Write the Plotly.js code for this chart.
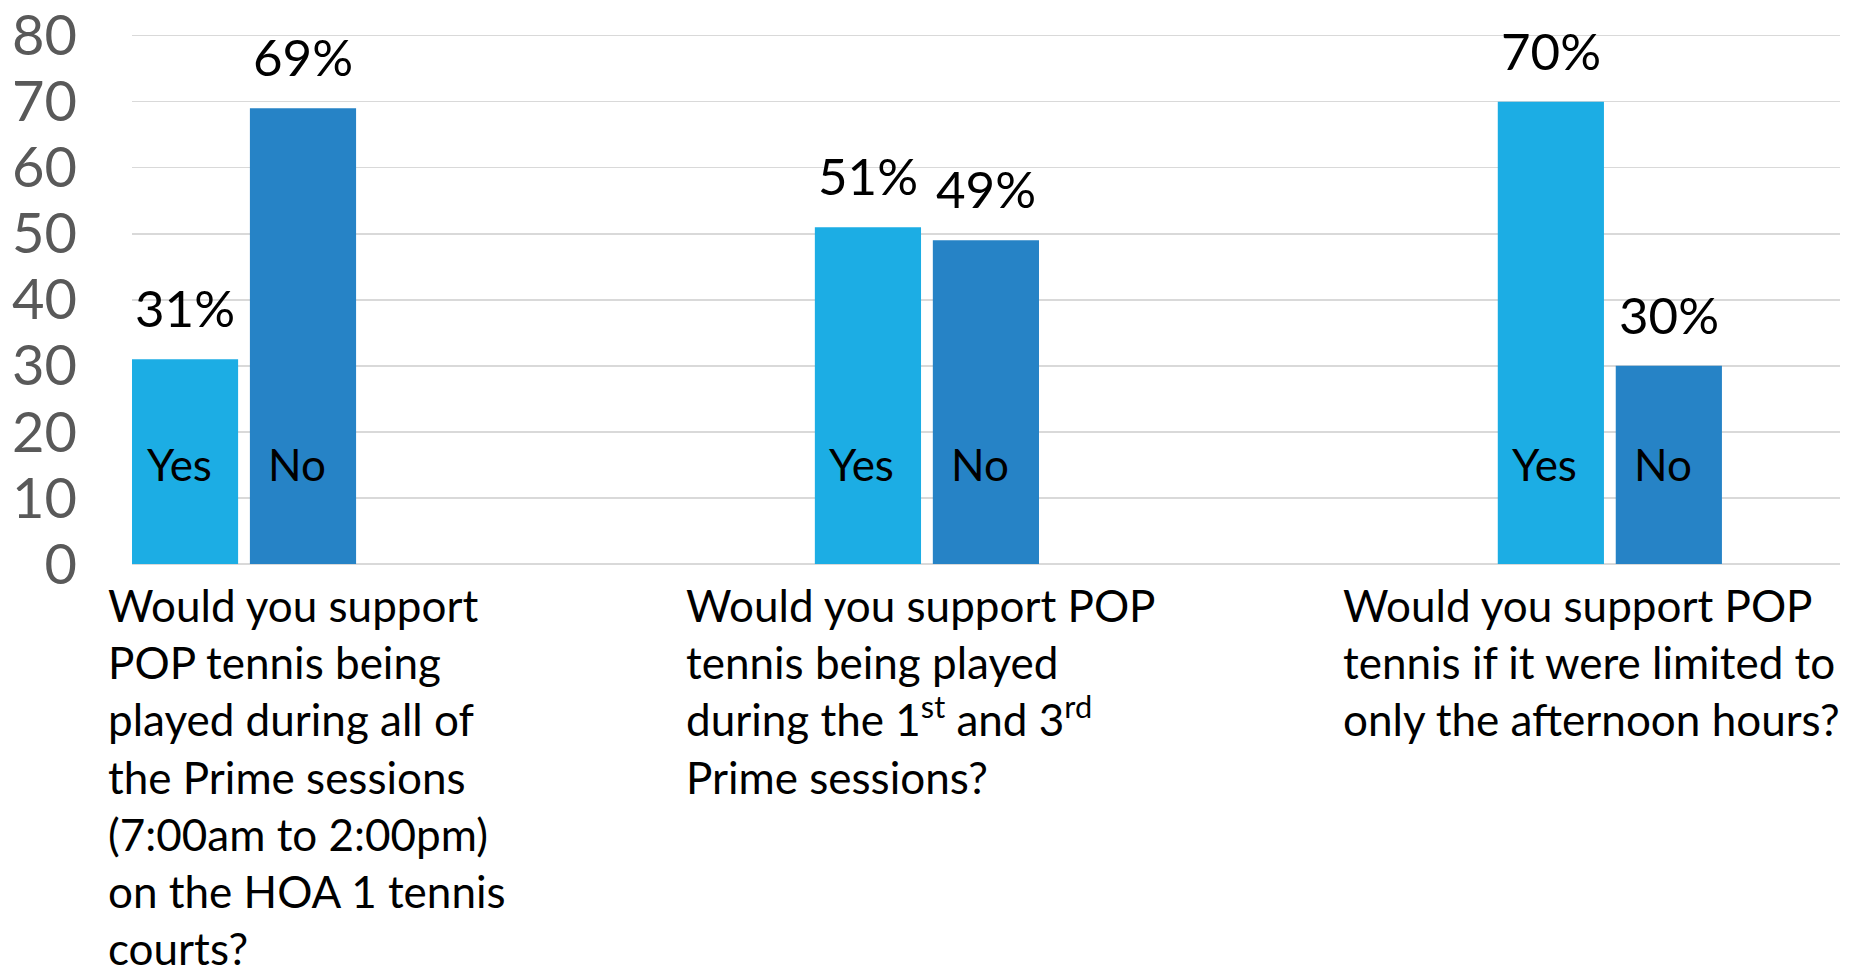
<!DOCTYPE html>
<html>
<head>
<meta charset="utf-8">
<script src="https://cdn.plot.ly/plotly-3.0.1.min.js"></script>
<style>html,body{margin:0;padding:0;background:#fff;}#chart{width:1849px;height:973px;}</style>
</head>
<body>
<div id="chart"></div>
<script>
var categories = [
  "Would you support<br>POP tennis being<br>played during all of<br>the Prime sessions<br>(7:00am to 2:00pm)<br>on the HOA 1 tennis<br>courts?",
  "Would you support POP<br>tennis being played<br>during the 1<sup>st</sup> and 3<sup>rd</sup><br>Prime sessions?",
  "Would you support POP<br>tennis if it were limited to<br>only the afternoon hours?"
];
var seriesNames = ["Yes", "No"];
var yesValues = [31, 51, 70];
var noValues = [69, 49, 30];
var yesLabels = ["31%", "51%", "70%"];
var noLabels = ["69%", "49%", "30%"];
var yTickVals = [0, 10, 20, 30, 40, 50, 60, 70, 80];
var yTickText = ["0", "10", "20", "30", "40", "50", "60", "70", "80"];

var W = 1849, H = 973;
var ml = 132, mr = 9, mt = 29, mb = 409;
var pw = W - ml - mr, ph = H - mt - mb;
function px(x) { return (x - ml) / pw; }
function py(y) { return (H - mb - y) / ph; }

var FONT = "Lato, 'Noto Sans', sans-serif";
var bargap = 0.6545;
var half = (1 - bargap) / 4;

var traces = [
  {type: "bar", name: seriesNames[0], x: categories, y: yesValues,
   marker: {color: "#1CADE4"}, hoverinfo: "skip"},
  {type: "bar", name: seriesNames[1], x: categories, y: noValues,
   marker: {color: "#2683C6"}, hoverinfo: "skip"}
];

var annotations = [];
var labelLeft = [106, 684, 1341];
for (var i = 0; i < categories.length; i++) {
  [[yesValues, yesLabels, -1, 0], [noValues, noLabels, 1, 1]].forEach(function (s) {
    annotations.push({
      xref: "x", yref: "y", x: i + s[2] * half, y: s[0][i],
      text: s[1][i], showarrow: false, xanchor: "center", yanchor: "bottom",
      yshift: 19, font: {family: FONT, size: 51, color: "#000"}
    });
    annotations.push({
      xref: "x", yref: "y", x: i + s[2] * half, y: 15.1,
      text: seriesNames[s[3]], showarrow: false, xanchor: "center", yanchor: "middle",
      xshift: -6, font: {family: FONT, size: 44, color: "#000"}
    });
  });
  annotations.push({
    xref: "paper", yref: "paper", x: px(labelLeft[i]), y: py(577),
    text: categories[i], showarrow: false, xanchor: "left", yanchor: "top", align: "left",
    font: {family: FONT, size: 44, color: "#000"}
  });
}

var layout = {
  width: W, height: H,
  margin: {l: ml, r: mr, t: mt, b: mb, pad: 0},
  paper_bgcolor: "#fff", plot_bgcolor: "#fff",
  showlegend: false,
  barmode: "group", bargap: bargap, bargroupgap: 0.1,
  xaxis: {type: "category", range: [-0.164, 2.337], showticklabels: false,
          showgrid: false, zeroline: false, showline: false, ticks: ""},
  yaxis: {range: [0, 81], tickvals: yTickVals, ticktext: yTickText,
          showgrid: true, gridcolor: "#d9d9d9", gridwidth: 1.5,
          zeroline: true, zerolinecolor: "#d9d9d9", zerolinewidth: 1.5,
          showline: false, ticks: "", ticklabelstandoff: 54,
          tickfont: {family: FONT, size: 56, color: "#595959"}},
  annotations: annotations
};

Plotly.newPlot("chart", traces, layout, {staticPlot: true, displayModeBar: false});
</script>
</body>
</html>
